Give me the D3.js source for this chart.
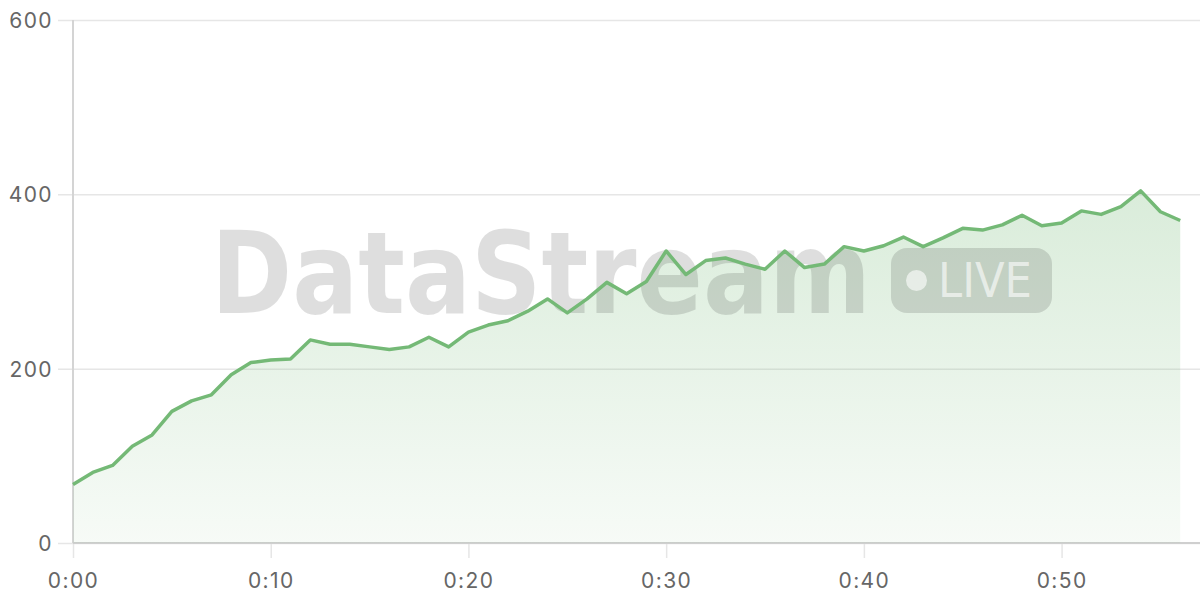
<!DOCTYPE html>
<html>
<head>
<meta charset="utf-8">
<script src="https://cdn.jsdelivr.net/npm/d3@7"></script>
<style>
  html, body { margin: 0; padding: 0; background: #fff; }
  svg { display: block; }
  .tick text { font-family: Inter, "Open Sans", sans-serif; font-size: 21px; letter-spacing: 1.4px; fill: #666; }
</style>
</head>
<body>
<svg id="chart" width="1200" height="600"></svg>
<script>
// minutes since start, one sample per minute
const minutes = d3.range(0, 57);
const values = [
  67, 81, 89, 111, 124, 151, 163, 170, 193, 207,
  210, 211, 233, 228, 228, 225, 222, 225, 236, 225,
  242, 250, 255, 266, 280, 264, 280, 299, 286, 300,
  335, 308, 324, 327, 320, 314, 335, 316, 320, 340,
  335, 341, 351, 340, 350, 361, 359, 365, 376, 364,
  367, 381, 377, 386, 404, 380, 370
];
const xTicks = [0, 10, 20, 30, 40, 50];
const yTicks = [0, 200, 400, 600];
const fmtMin = m => "0:" + d3.format("02d")(m);

const lineColor = "#74b976";

var svg = d3.select("#chart");
var margin = {left: 73, right: 0, top: 20, bottom: 57};
var width = 1200, height = 600;

var x = d3.scaleLinear().domain([0, 57]).range([margin.left, width - margin.right]);
var y = d3.scaleLinear().domain([0, 600]).range([height - margin.bottom, margin.top]);

var data = minutes.map((m, i) => ({m: m, v: values[i]}));

// gradient for the area
var defs = svg.append("defs");
var grad = defs.append("linearGradient")
  .attr("id", "areaGrad")
  .attr("x1", 0).attr("y1", 0).attr("x2", 0).attr("y2", 1);
grad.append("stop").attr("offset", "0%").attr("stop-color", lineColor).attr("stop-opacity", 0.27);
grad.append("stop").attr("offset", "100%").attr("stop-color", lineColor).attr("stop-opacity", 0.06);

// grid lines
svg.append("g")
  .attr("transform", `translate(${margin.left},0)`)
  .call(d3.axisLeft(y).tickValues(yTicks).tickSize(-(width - margin.left)).tickSizeOuter(0))
  .call(g => g.select(".domain").remove())
  .call(g => g.selectAll(".tick line").attr("stroke", "#e6e6e6").attr("stroke-width", 1.5)
    .attr("x1", -15))
  .call(g => g.selectAll(".tick text").attr("x", -20).attr("dy", "0.35em"));

svg.append("g")
  .attr("transform", `translate(0,${height - margin.bottom})`)
  .call(d3.axisBottom(x).tickValues(xTicks).tickFormat(fmtMin)
    .tickSize(-(height - margin.bottom - margin.top)).tickSizeOuter(0))
  .call(g => g.select(".domain").remove())
  .call(g => g.selectAll(".tick line").attr("stroke", "#e6e6e6").attr("stroke-width", 1.5)
    .attr("y2", 15))
  .call(g => g.selectAll(".tick text").attr("y", 0).attr("dy", "45px"));

// axis lines
svg.append("line")
  .attr("x1", x(0)).attr("x2", x(0))
  .attr("y1", y(600)).attr("y2", y(0))
  .attr("stroke", "#d4d4d4").attr("stroke-width", 2);
svg.append("line")
  .attr("x1", x(0)).attr("x2", width)
  .attr("y1", y(0)).attr("y2", y(0))
  .attr("stroke", "#cfcfcf").attr("stroke-width", 2);

// area
var area = d3.area()
  .x(d => x(d.m))
  .y0(y(0))
  .y1(d => y(d.v));
svg.append("path")
  .datum(data)
  .attr("d", area)
  .attr("fill", "url(#areaGrad)");

// watermark, squeezed horizontally to a condensed look
var wm = svg.append("g").attr("pointer-events", "none");
var wmText = wm.append("text")
  .attr("x", 0).attr("y", 0)
  .style("font-family", "'DejaVu Sans', sans-serif")
  .style("font-weight", "bold")
  .style("font-size", "114px")
  .attr("fill", "#000")
  .attr("fill-opacity", 0.13)
  .text("DataStream");
var wmW = wmText.node().getComputedTextLength();
wmText.attr("transform", `translate(211,313) scale(${660 / wmW},1)`);

wm.append("rect")
  .attr("x", 891).attr("y", 248)
  .attr("width", 161).attr("height", 65)
  .attr("rx", 16)
  .attr("fill", "#000")
  .attr("fill-opacity", 0.13);
wm.append("circle")
  .attr("cx", 916.5).attr("cy", 280.5).attr("r", 10.5)
  .attr("fill", "#fff").attr("fill-opacity", 0.6);
var liveText = wm.append("text")
  .attr("x", 0).attr("y", 0)
  .style("font-family", "'DejaVu Sans', sans-serif")
  .style("font-size", "48px")
  .attr("fill", "#fff").attr("fill-opacity", 0.6)
  .text("LIVE");
var liveW = liveText.node().getComputedTextLength();
liveText.attr("transform", `translate(938,297) scale(${94 / liveW},1)`);

// line
var line = d3.line()
  .x(d => x(d.m))
  .y(d => y(d.v));
svg.append("path")
  .datum(data)
  .attr("d", line)
  .attr("fill", "none")
  .attr("stroke", lineColor)
  .attr("stroke-width", 3.5)
  .attr("stroke-linejoin", "round");
</script>
</body>
</html>
